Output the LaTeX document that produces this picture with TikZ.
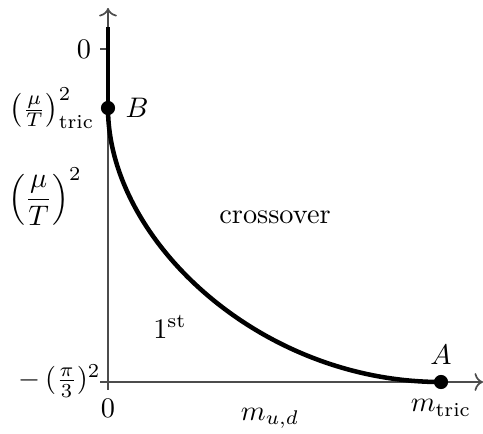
\documentclass[tikz,border=0pt]{standalone}
\usepackage{amsmath,amssymb}
\usepackage{tikz}
\usetikzlibrary{arrows.meta, positioning, calc}
\tikzset{
  axisline/.style={semithick,black!70,-{To[length=3pt]}},
  tickline/.style={semithick,black!70},
  phaseline/.style={line width=1.6pt,black},
  crit/.style={circle,fill=black,inner sep=0pt,minimum size=5pt},
}
\begin{document}
\begin{tikzpicture}[x=0.01242cm,y=-0.01242cm]
  \useasboundingbox (0,0) rectangle (483,433);
  % axes
  \coordinate (O) at (108,382);
  \coordinate (ytop) at (108,8);
  \coordinate (xend) at (483,382);
  \draw[axisline] (O)--(ytop);
  \draw[axisline] (O)--(xend);
  \draw[tickline] (100,382)--(O);
  \draw[tickline] (O)--(108,390);
  \draw[tickline] (100,49)--(108,49);
  % critical points
  \node[crit] (B) at (108,108) {};
  \node[crit] (A) at (441,382) {};
  \coordinate (Btop) at (108,27);
  \draw[phaseline] (Btop)--(B.center);
  \draw[phaseline] (B.center) .. controls (108,240) and (260,382) .. (A.center);
  % labels
  \node[right=0pt of B] (Blab) {$B$};
  \node[above=0pt of A] (Alab) {$A$};
  \node[anchor=east] (yzero) at (101,49) {$0$};
  \node (ytric) at (52,108) {$\left(\frac{\mu}{T}\right)^2_{\text{tric}}$};
  \node (ymu) at (45,197) {$\displaystyle\left(\frac{\mu}{T}\right)^2$};
  \node[anchor=east,inner sep=1pt] (ypi) at (104,381) {$-\,(\frac{\pi}{3})^2$};
  \node[inner sep=1pt] (xzero) at (108,408) {$0$};
  \node (xtric) at (441,408) {$m_{\text{tric}}$};
  \node (xlab) at (270,418) {$m_{u,d}$};
  \node (cross) at (275,217) {crossover};
  \node (first) at (170,327) {$1^{\text{st}}$};
\end{tikzpicture}
\end{document}
